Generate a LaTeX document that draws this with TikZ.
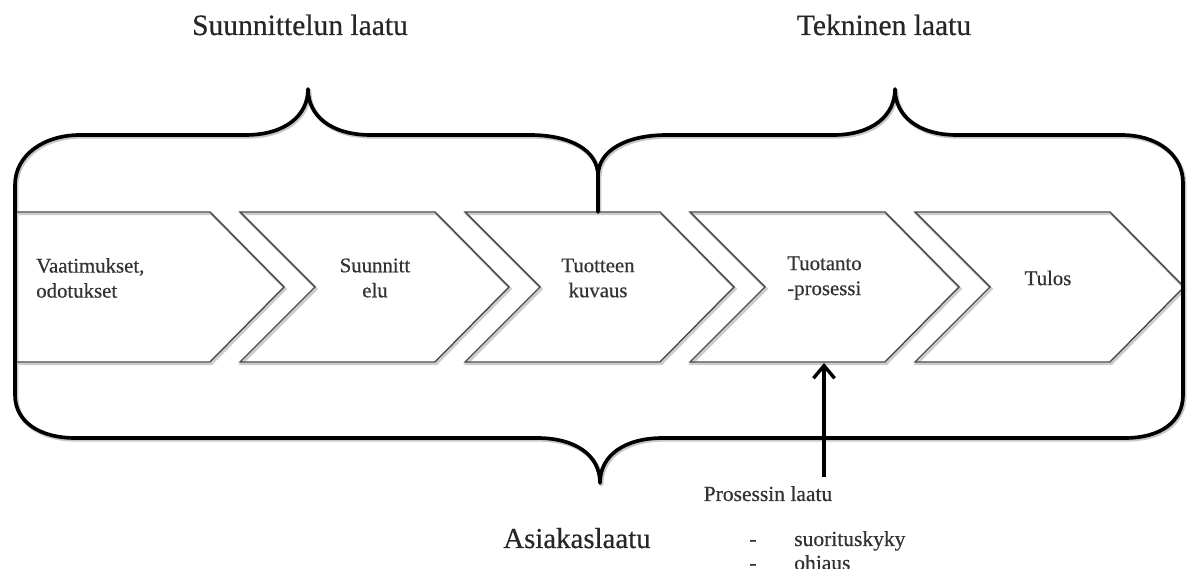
\documentclass[tikz,border=0pt]{standalone}
\usepackage{fontspec}
\setmainfont{Liberation Serif}[FakeBold=0.5]
\usetikzlibrary{arrows.meta}
\begin{document}
\begin{tikzpicture}[x=0.025cm,y=-0.025cm,
  brace/.style={line width=2.6pt, line join=round, line cap=round, draw=black},
  braceshadow/.style={line width=3pt, line join=round, draw=black!22,
    transform canvas={shift={(0.9pt,-1.1pt)}}},
  chev/.style={line width=1pt, line join=miter, draw=black!72},
  chevshadow/.style={line width=1.8pt, line join=miter, draw=black!20,
    transform canvas={shift={(1pt,-1.3pt)}}},
  steptext/.style={font=\fontsize{14.8pt}{17.8pt}\selectfont, text=black!80, inner sep=0pt},
  headtext/.style={font=\fontsize{21pt}{25pt}\selectfont, text=black!85, inner sep=0pt, anchor=base},
  smalltext/.style={font=\fontsize{15.3pt}{18pt}\selectfont, text=black!80, inner sep=0pt},
  uparrow/.style={line width=2.6pt, -{Straight Barb[length=9pt, width=15pt, line width=2.4pt]}}
]
\useasboundingbox (0,0) rectangle (1192,569);

% outer frame: two upper braces, side lines and the lower brace
\def\framepath{(598,212) -- (598,176)
  .. controls (598,150) and (570,135) .. (530,135) -- (371,135)
  .. controls (330,135) and (308,115) .. (308,89)
  .. controls (308,115) and (286,135) .. (245,135) -- (80,135)
  .. controls (44,135) and (15,155) .. (15,185) -- (15,395)
  .. controls (15,422) and (40,438) .. (75,438) -- (537,438)
  .. controls (575,438) and (600,455) .. (600,483)
  .. controls (600,455) and (625,438) .. (663,438) -- (1125,438)
  .. controls (1160,438) and (1183,422) .. (1183,395) -- (1183,183)
  .. controls (1183,155) and (1158,135) .. (1121,135) -- (957,135)
  .. controls (917,135) and (895,115) .. (895,89)
  .. controls (895,115) and (873,135) .. (833,135) -- (667,135)
  .. controls (627,135) and (598,150) .. (598,176)}
\draw[braceshadow] \framepath;

% process steps
\draw[chevshadow] (15,212) -- (210,212) -- (284,287) -- (210,362) -- (15,362) -- cycle;
\foreach \s in {240,465,690,915} {
  \draw[chevshadow] (\s,212) -- (\s+195,212) -- (\s+269,287) -- (\s+195,362)
    -- (\s,362) -- (\s+75,287) -- cycle;
}
\draw[chev] (15,212) -- (210,212) -- (284,287) -- (210,362) -- (15,362) -- cycle;
\foreach \s in {240,465,690,915} {
  \draw[chev] (\s,212) -- (\s+195,212) -- (\s+269,287) -- (\s+195,362)
    -- (\s,362) -- (\s+75,287) -- cycle;
}

\draw[brace] \framepath;

% step labels
\node[steptext, anchor=west, align=left] (t1) at (36,278) {Vaatimukset,\\odotukset};
\node[steptext, align=center] (t2) at (375,278) {Suunnitt\\elu};
\node[steptext, align=center] (t3) at (598,278) {Tuotteen\\kuvaus};
\node[steptext, anchor=west, align=left] (t4) at (787,278) {Tuotanto\\-prosessi};
\node[steptext] (t5) at (1048,278) {Tulos};

% headings
\node[headtext] (h1) at (300,35) {Suunnittelun laatu};
\node[headtext] (h2) at (884,35) {Tekninen laatu};
\node[headtext, font=\fontsize{20.5pt}{24pt}\selectfont] (h3) at (577,548) {Asiakaslaatu};

% process quality input
\coordinate (c4b) at (824,363);
\node[smalltext, anchor=base, outer ysep=6.5pt] (plabel) at (768,501) {Prosessin laatu};
\draw[uparrow] (plabel.north -| c4b) -- (c4b);

\node[smalltext, anchor=base] (d1) at (753,546) {-};
\node[smalltext, anchor=base west] (s1) at (794,546) {suorituskyky};
\node[smalltext, anchor=base] (d2) at (753,570) {-};
\node[smalltext, anchor=base west] (s2) at (794,570) {ohjaus};
\end{tikzpicture}
\end{document}
